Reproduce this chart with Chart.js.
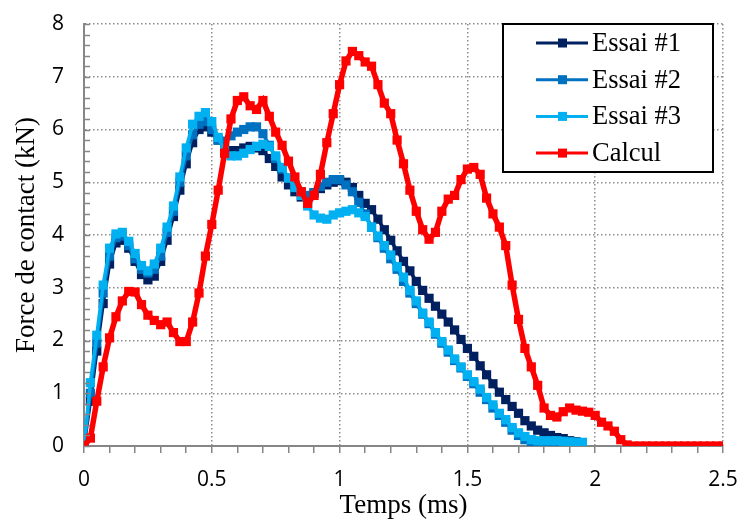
<!DOCTYPE html>
<html>
<head>
<meta charset="utf-8">
<script src="https://cdn.jsdelivr.net/npm/chart.js@4.4.0/dist/chart.umd.min.js"></script>
<style>
  html, body { margin: 0; padding: 0; background: #fff; }
  #wrap { width: 741px; height: 522px; }
</style>
</head>
<body>
<div id="wrap"><canvas id="contact-chart"></canvas></div>
<script>
// sampling step of the curves (ms)
const step = 0.025;

const essai1 = [0, 0.85, 1.8, 2.7, 3.45, 3.85, 3.9, 3.75, 3.5, 3.25, 3.15, 3.22, 3.5, 3.9, 4.35, 4.85, 5.35, 5.75, 6.0, 6.05,
  5.95, 5.8, 5.65, 5.6, 5.6, 5.65, 5.68, 5.65, 5.6, 5.45, 5.3, 5.1, 4.95, 4.82, 4.72, 4.68, 4.8, 4.88, 4.95, 5.0,
  5.03, 5.0, 4.9, 4.75, 4.6, 4.48, 4.3, 4.1, 3.9, 3.7, 3.5, 3.32, 3.12, 2.95, 2.8, 2.65, 2.5, 2.35, 2.2, 2.02,
  1.85, 1.7, 1.52, 1.35, 1.18, 1.02, 0.88, 0.75, 0.62, 0.48, 0.38, 0.3, 0.25, 0.2, 0.16, 0.14, 0.1, 0.08];

const essai2 = [0, 1.0, 1.95, 2.9, 3.6, 3.95, 3.98, 3.8, 3.55, 3.35, 3.28, 3.35, 3.6, 4.05, 4.45, 5.0, 5.5, 5.9, 6.1, 6.15,
  6.0, 5.8, 5.78, 5.88, 5.95, 6.0, 6.05, 6.05, 5.92, 5.7, 5.45, 5.25, 5.08, 4.92, 4.82, 4.75, 4.8, 4.92, 5.0, 5.05,
  5.05, 4.95, 4.82, 4.62, 4.4, 4.15, 3.95, 3.75, 3.55, 3.35, 3.12, 2.9, 2.7, 2.5, 2.32, 2.12, 1.95, 1.78, 1.62, 1.48,
  1.32, 1.18, 1.02, 0.88, 0.72, 0.58, 0.45, 0.3, 0.2, 0.12, 0.08, 0.06, 0.05, 0.05, 0.05, 0.05, 0.06];

const essai3 = [0, 1.2, 2.1, 3.05, 3.75, 4.02, 4.05, 3.88, 3.65, 3.42, 3.32, 3.45, 3.75, 4.15, 4.55, 5.1, 5.65, 6.1, 6.25, 6.32,
  6.15, 5.85, 5.6, 5.5, 5.5, 5.55, 5.62, 5.68, 5.72, 5.68, 5.5, 5.28, 5.08, 4.9, 4.75, 4.55, 4.38, 4.32, 4.3, 4.38,
  4.42, 4.45, 4.48, 4.42, 4.35, 4.15, 3.98, 3.8, 3.62, 3.4, 3.2, 2.95, 2.75, 2.52, 2.35, 2.15, 1.98, 1.82, 1.65, 1.5,
  1.35, 1.22, 1.08, 0.92, 0.78, 0.62, 0.5, 0.35, 0.25, 0.18, 0.12, 0.1, 0.1, 0.1, 0.1, 0.09, 0.08, 0.07, 0.07];

const calcul = [0, 0.15, 0.85, 1.5, 2.05, 2.45, 2.75, 2.93, 2.92, 2.68, 2.48, 2.38, 2.3, 2.35, 2.15, 1.98, 1.98, 2.35, 2.9, 3.6,
  4.2, 4.85, 5.55, 6.2, 6.55, 6.62, 6.45, 6.38, 6.55, 6.25, 5.95, 5.7, 5.4, 5.1, 4.82, 4.6, 4.75, 5.15, 5.75, 6.3,
  6.85, 7.3, 7.48, 7.4, 7.28, 7.2, 6.85, 6.5, 6.3, 5.8, 5.35, 4.85, 4.45, 4.1, 3.92, 4.05, 4.45, 4.68, 4.75, 5.05,
  5.25, 5.28, 5.15, 4.7, 4.4, 4.15, 3.8, 3.05, 2.4, 1.85, 1.5, 1.15, 0.72, 0.58, 0.55, 0.65, 0.72, 0.68, 0.66, 0.64,
  0.58, 0.45, 0.38, 0.28, 0.12, 0.02, 0, 0, 0, 0, 0, 0, 0, 0, 0, 0, 0, 0, 0, 0, 0];

const seriesNames = ['Essai #1', 'Essai #2', 'Essai #3', 'Calcul'];
const seriesColors = ['#002060', '#0070C0', '#00B0F0', '#FF0000'];
const xTicks = [0, 0.5, 1, 1.5, 2, 2.5];
const yTicks = [0, 1, 2, 3, 4, 5, 6, 7, 8];

function toPoints(values) {
  return values.map((v, i) => ({ x: Math.round(i * step * 1000) / 1000, y: v }));
}

const isMajorX = v => xTicks.some(t => Math.abs(t - v) < 1e-6);

// legend drawn as a framed box in the top right corner of the plot
const boxLegend = {
  id: 'boxLegend',
  afterDraw(chart) {
    const { ctx, chartArea } = chart;
    const w = 210, h = 148;
    const left = chartArea.right - 10 - w, top = chartArea.top;
    ctx.save();
    ctx.fillStyle = '#fff';
    ctx.fillRect(left, top, w, h);
    ctx.lineWidth = 2;
    ctx.strokeStyle = '#000';
    ctx.strokeRect(left, top, w, h);
    ctx.font = '26.5px "Liberation Serif"';
    ctx.textBaseline = 'middle';
    seriesNames.forEach((name, i) => {
      const y = top + 19 + i * 36.7;
      ctx.strokeStyle = seriesColors[i];
      ctx.lineWidth = 3;
      ctx.beginPath();
      ctx.moveTo(left + 33, y);
      ctx.lineTo(left + 85, y);
      ctx.stroke();
      ctx.fillStyle = seriesColors[i];
      ctx.fillRect(left + 55, y - 4.5, 9, 9);
      ctx.fillStyle = '#000';
      ctx.fillText(name, left + 89, y + 1);
    });
    ctx.restore();
  }
};

// small inward tick marks on the y axis every 0.2
const yMinorTicks = {
  id: 'yMinorTicks',
  afterDatasetsDraw(chart) {
    const { ctx } = chart;
    const y = chart.scales.y;
    ctx.save();
    ctx.strokeStyle = '#868686';
    ctx.lineWidth = 1.5;
    for (let k = 0; k <= 40; k++) {
      const py = Math.round(y.getPixelForValue(k * 0.2)) + 0.5;
      ctx.beginPath();
      ctx.moveTo(y.right, py);
      ctx.lineTo(y.right + 6, py);
      ctx.stroke();
    }
    ctx.restore();
  }
};

const datasets = [essai1, essai2, essai3, calcul].map((vals, i) => ({
  label: seriesNames[i],
  data: toPoints(vals),
  borderColor: seriesColors[i],
  backgroundColor: seriesColors[i],
  borderWidth: i === 3 ? 5.5 : 3.5,
  pointStyle: 'rect',
  pointRadius: 6.5,
  pointBorderWidth: 0,
  pointHoverRadius: 6.5,
  tension: 0,
  order: 4 - i
}));

new Chart(document.getElementById('contact-chart'), {
  type: 'line',
  data: { datasets },
  options: {
    responsive: true,
    maintainAspectRatio: false,
    animation: false,
    events: [],
    layout: { padding: { left: 0, right: 18, top: 24, bottom: 0 } },
    plugins: {
      legend: { display: false },
      tooltip: { enabled: false }
    },
    scales: {
      x: {
        type: 'linear',
        min: 0,
        max: 2.5,
        afterFit: s => { s.height = 76; s.paddingLeft = 0; s.paddingRight = 0; },
        ticks: {
          stepSize: 0.1,
          autoSkip: false,
          maxRotation: 0,
          padding: 14,
          color: '#000',
          font: { family: '"Open Sans"', size: 21 },
          callback: v => isMajorX(v) ? String(Math.round(v * 10) / 10) : ''
        },
        grid: {
          color: c => isMajorX(c.tick.value) ? '#8c8c8c' : 'rgba(0,0,0,0)',
          lineWidth: 1.5,
          tickColor: '#868686',
          tickWidth: 1.5,
          tickLength: 7
        },
        border: { display: true, color: '#868686', width: 2, dash: [1.5, 2.5] },
        title: {
          display: true,
          text: 'Temps (ms)',
          color: '#000',
          font: { family: '"Liberation Serif"', size: 27 },
          padding: { top: 0, bottom: 0 }
        }
      },
      y: {
        min: 0,
        max: 8,
        afterFit: s => { s.width = 84; s.paddingTop = 0; s.paddingBottom = 0; },
        ticks: {
          stepSize: 1,
          padding: 20,
          color: '#000',
          font: { family: '"Open Sans"', size: 21 }
        },
        grid: {
          color: '#8c8c8c',
          lineWidth: 1.5,
          drawTicks: false
        },
        border: { display: true, color: '#868686', width: 2, dash: [1.5, 2.5] },
        title: {
          display: true,
          text: 'Force de contact (kN)',
          color: '#000',
          font: { family: '"Liberation Serif"', size: 27 },
          padding: { top: 11, bottom: 0 }
        }
      }
    }
  },
  plugins: [yMinorTicks, boxLegend]
});
</script>
</body>
</html>
